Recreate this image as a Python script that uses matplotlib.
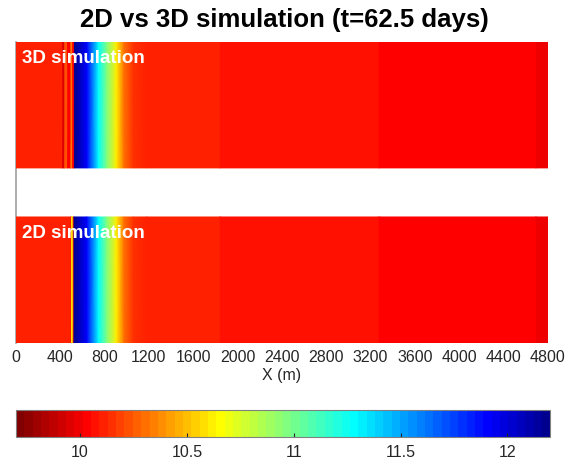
import matplotlib.pyplot as plt
import numpy as np
from matplotlib.colors import ListedColormap, Normalize
from matplotlib.ticker import FormatStrFormatter

plt.rcParams.update({
    "font.family": ["Liberation Sans", "DejaVu Sans"],
    "font.size": 10,
})

# ------------------------------------------------------------
# Water level profile along X (m)
# ------------------------------------------------------------
x_3d = [0, 400, 418, 424, 436, 442, 462, 468, 492, 498, 508, 514, 522, 530,
        640, 745, 820, 905, 975, 1060, 1180, 1836, 1846, 3270, 3282, 4688,
        4698, 4800]
h_3d = [10.11, 10.11, 10.11, 9.97, 9.97, 10.22, 10.22, 10.05, 10.05, 10.30,
        10.30, 10.03, 10.03, 12.17, 11.90, 11.30, 10.95, 10.62, 10.32, 10.16,
        10.11, 10.11, 10.07, 10.07, 10.03, 10.03, 9.99, 9.99]

x_2d = [0, 498, 504, 512, 518, 526, 640, 745, 820, 905, 975, 1060, 1180,
        1836, 1846, 3270, 3282, 4688, 4698, 4800]
h_2d = [10.11, 10.11, 10.60, 10.60, 10.11, 12.17, 11.90, 11.30, 10.95,
        10.62, 10.32, 10.16, 10.11, 10.11, 10.07, 10.07, 10.03, 10.03, 9.99,
        9.99]

VMIN, VMAX = 9.7, 12.2
cbar_ticks = [10, 10.5, 11, 11.5, 12]
x_ticks = np.arange(0, 4801, 400)


def matlab_jet(m=64):
    """MATLAB's jet(m) colour table."""
    n = int(np.ceil(m / 4))
    u = np.concatenate([np.arange(1, n + 1) / n, np.ones(n - 1),
                        np.arange(n, 0, -1) / n])
    g = int(np.ceil(n / 2)) - (m % 4 == 1) + np.arange(1, len(u) + 1)
    r = g + n
    b = g - n
    g = g[g <= m]
    r = r[r <= m]
    b = b[b >= 1]
    J = np.zeros((m, 3))
    J[r - 1, 0] = u[:len(r)]
    J[g - 1, 1] = u[:len(g)]
    J[b - 1, 2] = u[len(u) - len(b):]
    return J


cmap = ListedColormap(matlab_jet(64)[::-1])
norm = Normalize(VMIN, VMAX)

fig = plt.figure(figsize=(5.69, 4.59), dpi=100)
ax = fig.add_axes([0.028, 0.253, 0.935, 0.6555])

# lower panel (2D) at y 0..1, upper panel (3D) at y 1.39..2.39
for xs, hs, y0 in [(x_2d, h_2d, 0.0), (x_3d, h_3d, 1.39)]:
    X, Y = np.meshgrid(np.array(xs, float), [y0, y0 + 1.0])
    Z = np.vstack([hs, hs])
    mesh = ax.pcolormesh(X, Y, Z, cmap=cmap, norm=norm, shading="gouraud",
                         zorder=3)

ax.set_xlim(0, 4800)
ax.set_ylim(0, 2.39)
ax.set_xticks(x_ticks)
ax.set_yticks([])
ax.tick_params(axis="x", direction="in", length=0, colors="#262626",
               labelsize=11.5, pad=5)
for side in ["top", "right", "bottom"]:
    ax.spines[side].set_visible(False)
ax.spines["left"].set_color("#a0a0a0")
ax.spines["left"].set_linewidth(1.2)
ax.set_xlabel("X (m)", fontsize=11.5, color="#262626", labelpad=2)

ax.text(0.012, 0.945, "3D simulation", transform=ax.transAxes, color="white",
        fontsize=13.5, fontweight="bold", va="center", ha="left", zorder=5)
ax.text(0.012, 0.365, "2D simulation", transform=ax.transAxes, color="white",
        fontsize=13.5, fontweight="bold", va="center", ha="left", zorder=5)

fig.suptitle("2D vs 3D simulation (t=62.5 days)", x=0.5, y=0.982,
             fontsize=18.5, fontweight="bold")

cax = fig.add_axes([0.028, 0.048, 0.939, 0.059])
cb = fig.colorbar(mesh, cax=cax, orientation="horizontal", ticks=cbar_ticks)
cb.outline.set_edgecolor("#808080")
cax.xaxis.set_major_formatter(FormatStrFormatter("%g"))
cax.tick_params(direction="in", length=3, colors="#262626", labelsize=11.5,
                pad=6)

fig.savefig("out.png", dpi=100)
